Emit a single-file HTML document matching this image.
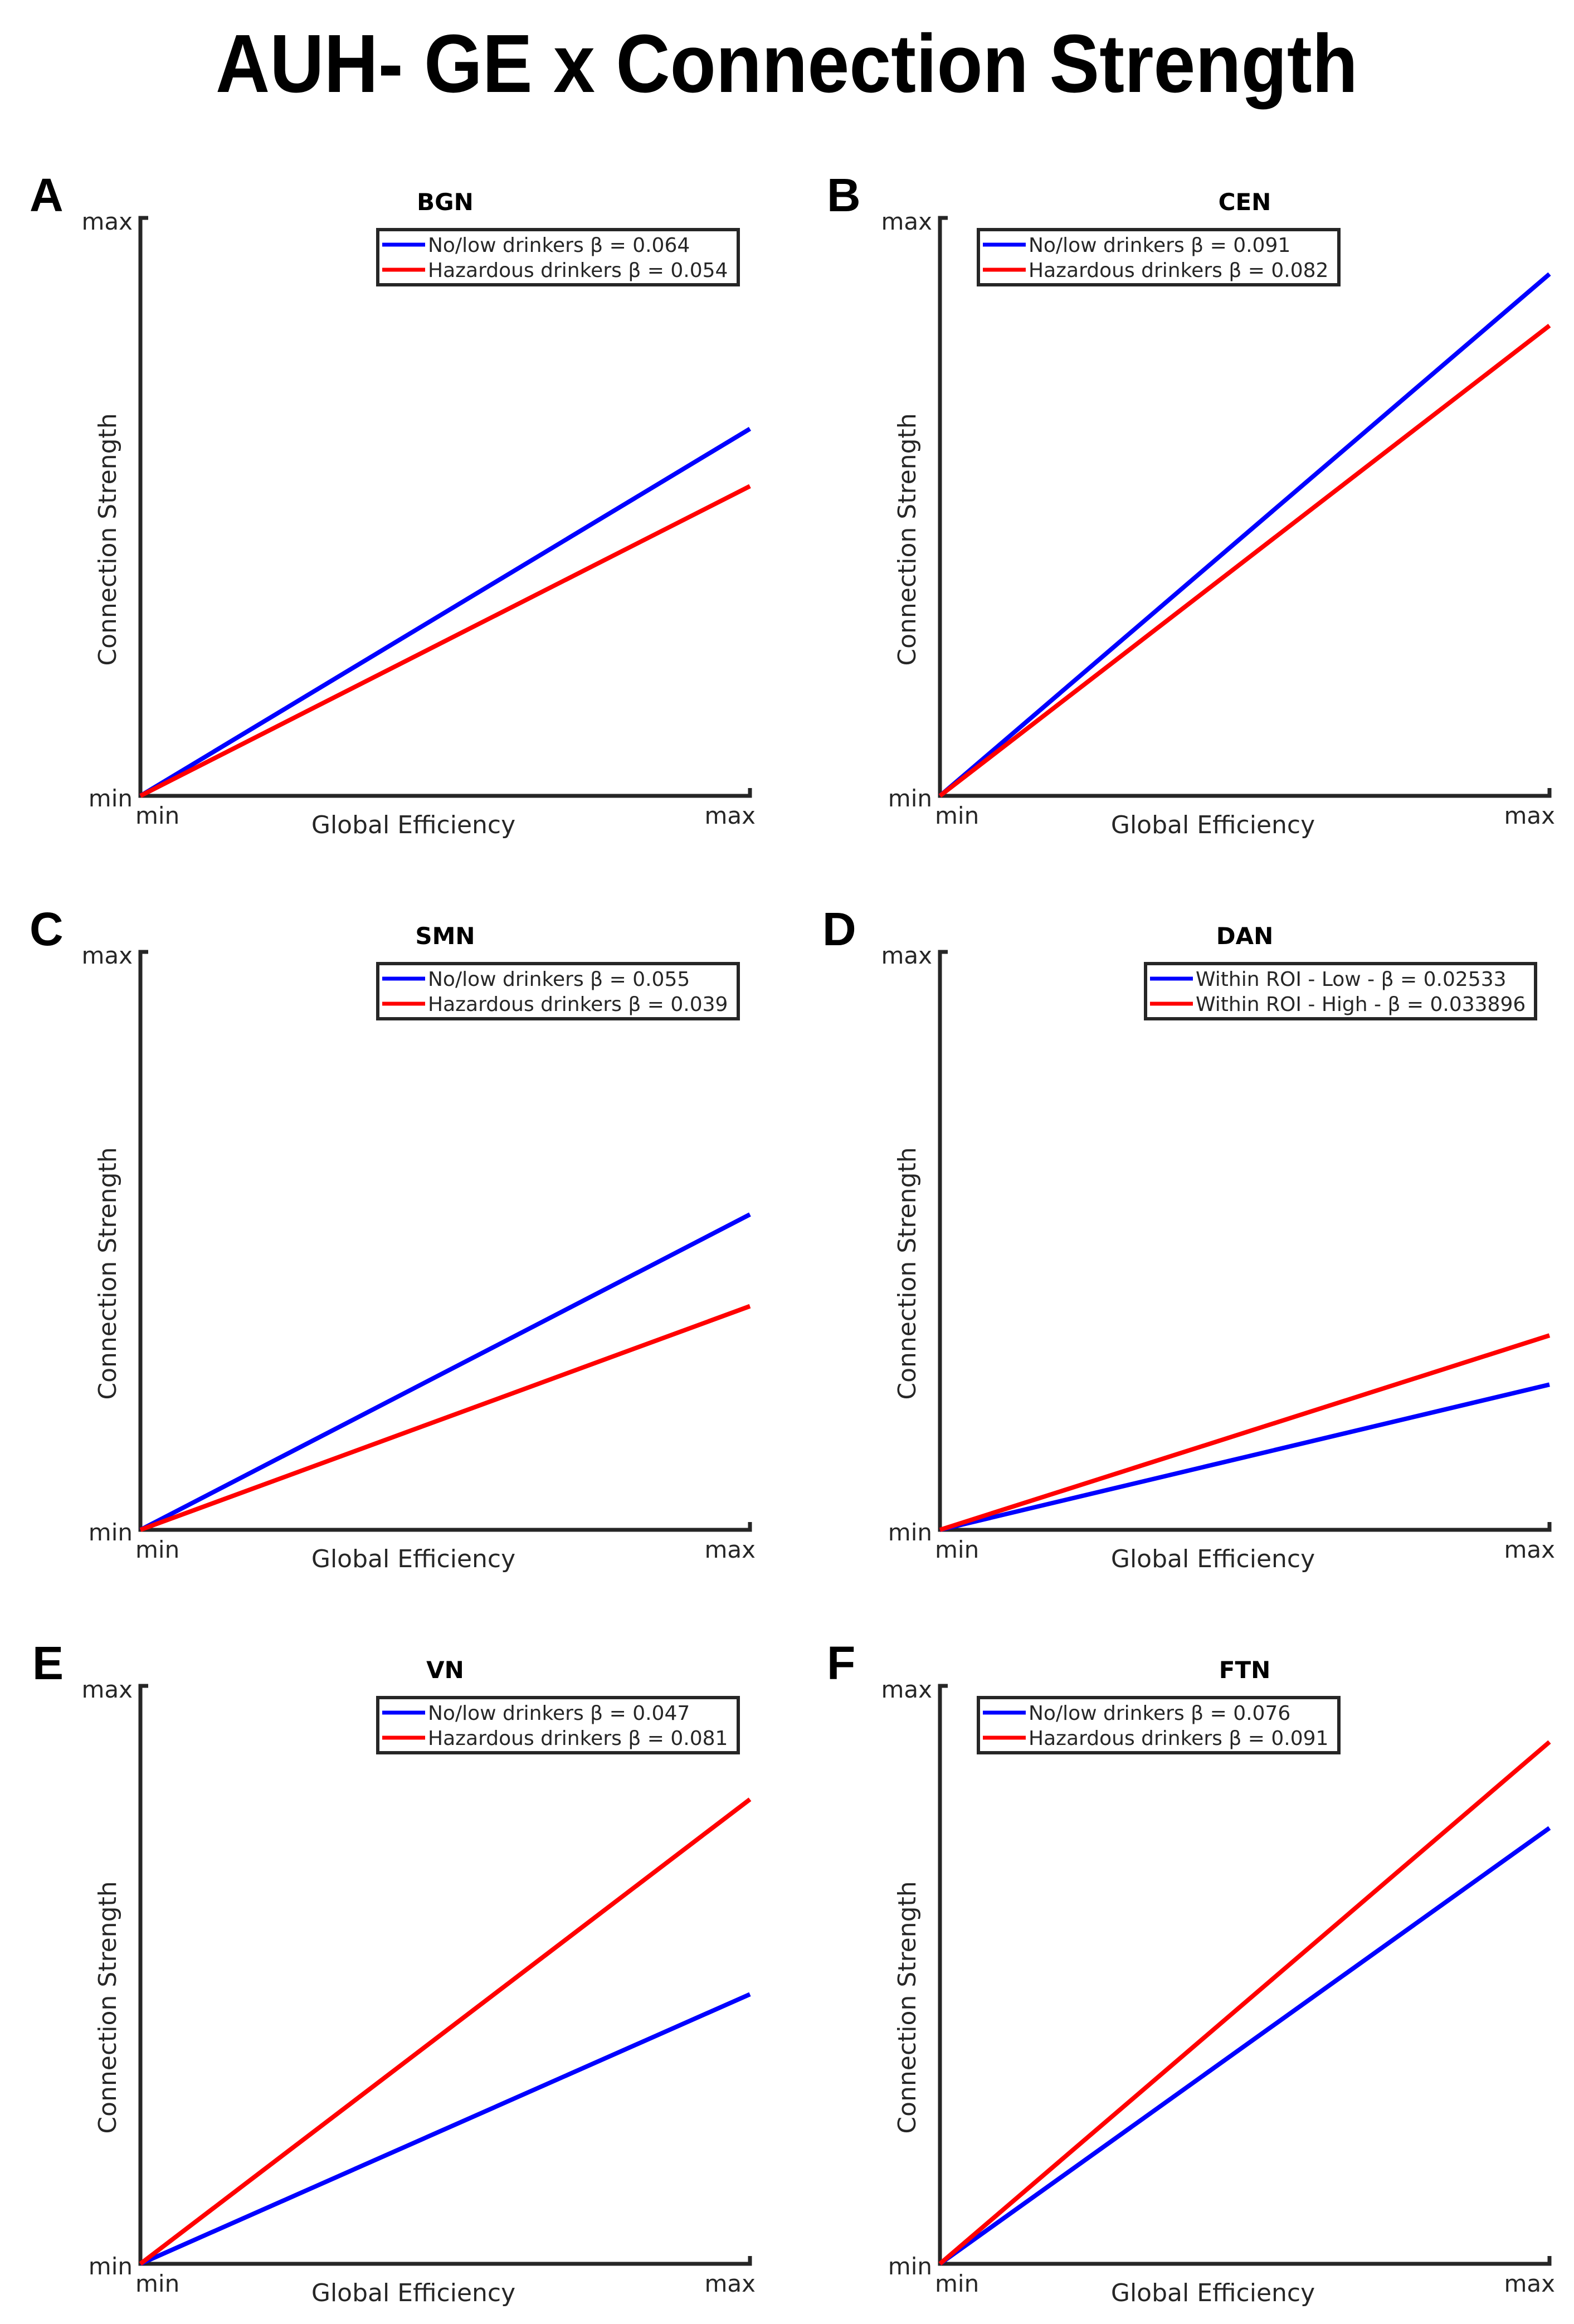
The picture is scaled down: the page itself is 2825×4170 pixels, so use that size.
<!DOCTYPE html>
<html><head><meta charset="utf-8"><style>
html,body{margin:0;padding:0;background:#fff;}
svg{display:block;}
text{font-family:"DejaVu Sans","Liberation Sans",sans-serif;fill:#262626;}
</style></head><body>
<svg id="fig" width="2825" height="4170" viewBox="0 0 2825 4170" xmlns="http://www.w3.org/2000/svg">
<text x="1412" y="165" text-anchor="middle" font-size="148" font-weight="bold" textLength="2050" lengthAdjust="spacingAndGlyphs" style="font-family:'Liberation Sans',sans-serif;fill:#000">AUH- GE x Connection Strength</text>
</svg>
<script>
const panelLetters = ["A","B","C","D","E","F"];
const panelTitles = ["BGN","CEN","SMN","DAN","VN","FTN"];
const betaLow = [0.064, 0.091, 0.055, 0.02533, 0.047, 0.076];
const betaHigh = [0.054, 0.082, 0.039, 0.033896, 0.081, 0.091];
const lowLabels = ["No/low drinkers \u03B2 = 0.064","No/low drinkers \u03B2 = 0.091","No/low drinkers \u03B2 = 0.055","Within ROI - Low - \u03B2 = 0.02533","No/low drinkers \u03B2 = 0.047","No/low drinkers \u03B2 = 0.076"];
const highLabels = ["Hazardous drinkers \u03B2 = 0.054","Hazardous drinkers \u03B2 = 0.082","Hazardous drinkers \u03B2 = 0.039","Within ROI - High - \u03B2 = 0.033896","Hazardous drinkers \u03B2 = 0.081","Hazardous drinkers \u03B2 = 0.091"];
const xDomain = [0, 1];
const yDomain = [0, 0.1];

const NS = "http://www.w3.org/2000/svg";
const svg = document.getElementById("fig");
function mk(tag, attrs, parent, txt){
  const e = document.createElementNS(NS, tag);
  for (const k in attrs) e.setAttribute(k, attrs[k]);
  if (txt !== undefined) e.textContent = txt;
  parent.appendChild(e);
  return e;
}
const colX = [252, 1687];
const rowBottom = [1428, 2745, 4062];
const W = 1094, H = 1029;
const legendOffset = [426, 69, 426, 369, 426, 69];
const legendWidth = [647, 647, 647, 700, 647, 647];
const letterX = [53, 1484, 53, 1476, 58, 1484];

for (let i = 0; i < 6; i++) {
  const x0 = colX[i % 2], yb = rowBottom[Math.floor(i / 2)], yt = yb - H;
  const sx = v => x0 + (v - xDomain[0]) / (xDomain[1] - xDomain[0]) * W;
  const sy = v => yb - (v - yDomain[0]) / (yDomain[1] - yDomain[0]) * H;
  const g = mk("g", {}, svg);
  
  

  const letter = mk("text", {x: letterX[i], y: yt - 20, "font-size": 84, "font-weight": "bold", style: "font-family:'Liberation Sans',sans-serif;fill:#000"}, g, panelLetters[i]);
  
  

  const title = mk("text", {x: x0 + 547, y: yt - 22, "text-anchor": "middle", "font-size": 42, "font-weight": "bold", style: "fill:#000"}, g, panelTitles[i]);
  
  

  const yAxis = mk("path", {d: `M${x0+14},${yt-8} H${x0} V${yb} H${x0+W} V${yb-14}`, fill: "none", stroke: "#262626", "stroke-width": 7}, g);
  
  

  const t1 = mk("text", {x: x0 - 14, y: yt + 13, "text-anchor": "end", "font-size": 42}, g, "max");
  
  
  const t2 = mk("text", {x: x0 - 14, y: yb + 19, "text-anchor": "end", "font-size": 42}, g, "min");
  
  
  const t3 = mk("text", {x: x0 - 9, y: yb + 50, "font-size": 42}, g, "min");
  
  
  const t4 = mk("text", {x: x0 + W + 10, y: yb + 50, "text-anchor": "end", "font-size": 42}, g, "max");
  
  

  const xl = mk("text", {x: x0 + 490, y: yb + 67, "text-anchor": "middle", "font-size": 44}, g, "Global Efficiency");
  
  
  const ylx = x0 - 44, yly = yb - 460;
  const yl = mk("text", {x: ylx, y: yly, "text-anchor": "middle", "font-size": 44, transform: `rotate(-90 ${ylx} ${yly})`}, g, "Connection Strength");
  
  

  const lo = mk("line", {x1: sx(0), y1: sy(0), x2: sx(1), y2: sy(betaLow[i] * 1), stroke: "#0000ff", "stroke-width": 8}, g);
  
  
  const hi = mk("line", {x1: sx(0), y1: sy(0), x2: sx(1), y2: sy(betaHigh[i] * 1), stroke: "#ff0000", "stroke-width": 8}, g);
  
  

  const lx = x0 + legendOffset[i], ly = yt + 13, lw = legendWidth[i];
  const lg = mk("g", {}, g);
  
  
  mk("rect", {x: lx, y: ly, width: lw, height: 99, fill: "#fff", stroke: "#262626", "stroke-width": 6}, lg);
  const e1 = mk("line", {x1: lx + 8, y1: ly + 27, x2: lx + 85, y2: ly + 27, stroke: "#0000ff", "stroke-width": 7}, lg);
  
  
  const e2 = mk("line", {x1: lx + 8, y1: ly + 72, x2: lx + 85, y2: ly + 72, stroke: "#ff0000", "stroke-width": 7}, lg);
  
  
  const l1 = mk("text", {x: lx + 90, y: ly + 40, "font-size": 36}, lg, lowLabels[i]);
  
  
  const l2 = mk("text", {x: lx + 90, y: ly + 85, "font-size": 36}, lg, highLabels[i]);
  
  
}
</script>
</body></html>
